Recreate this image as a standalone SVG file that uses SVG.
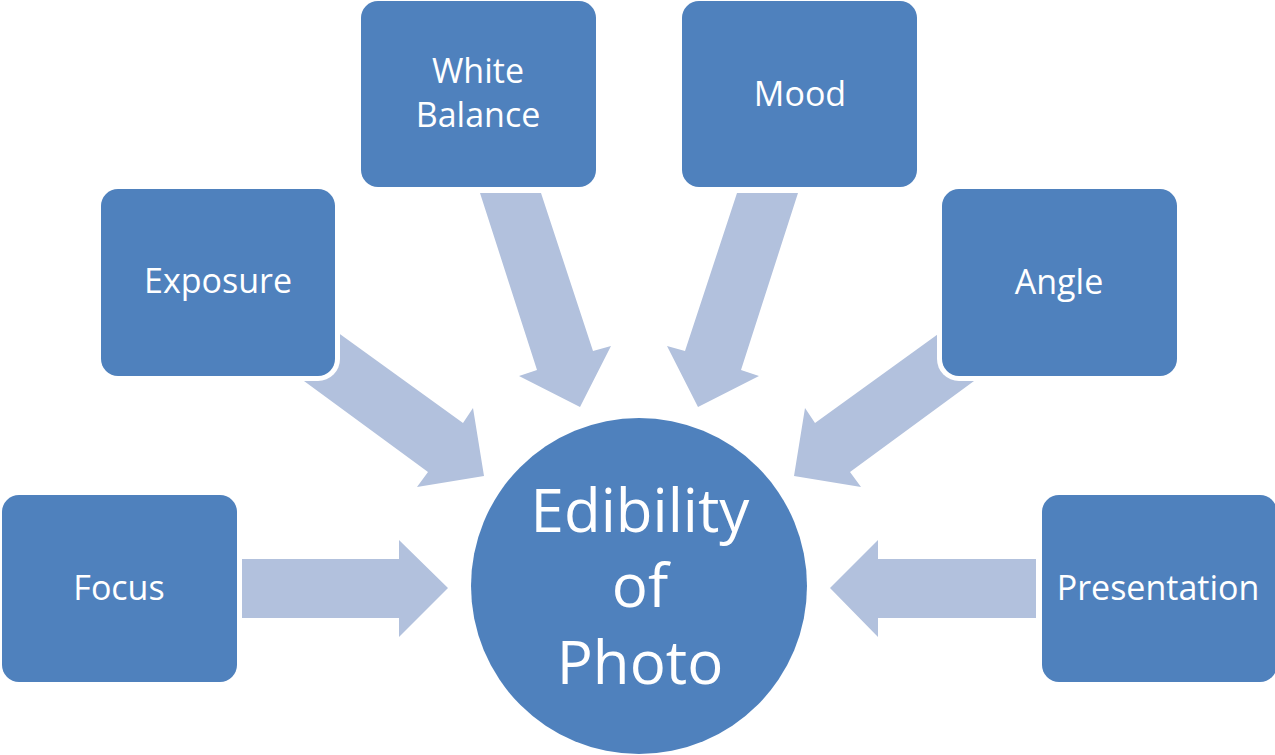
<svg xmlns="http://www.w3.org/2000/svg" width="1275" height="755" viewBox="0 0 1275 755">
<style>
.box{fill:#4F81BD}
.halo{fill:#FFFFFF}
.arrow{fill:#B2C1DD}
.lbl{font-family:"Open Sans","Noto Sans","Liberation Sans",sans-serif;fill:#FFFFFF;text-anchor:middle;font-size:34px}
.big{font-family:"Open Sans","Noto Sans","Liberation Sans",sans-serif;fill:#FFFFFF;text-anchor:middle;font-size:60px}
</style>
<rect width="1275" height="755" fill="#FFFFFF"/>
<g id="connectors">
<polygon class="arrow" points="242,559 399,559 399,540 448,588 399,637 399,618 242,618"/>
<polygon class="arrow" points="1036,559 878,559 878,540 830,588 878,637 878,618 1036,618"/>
<polygon class="arrow" points="326,324 463,423 473,408 484,476 417,487 428,472 289,370"/>
<polygon class="arrow" points="952,324 815,423 805,408 794,476 861,487 850,472 989,370"/>
<polygon class="arrow" points="480,193 541,193 593,351 611,346 580,407 519,376 537,370"/>
<polygon class="arrow" points="798,193 737,193 685,351 667,346 698,407 759,376 741,370"/>
</g>
<g id="node-focus">
<rect class="halo" x="-3" y="490" width="245" height="197" rx="22"/>
<rect class="box" x="2" y="495" width="235" height="187" rx="17"/>
<text class="lbl" x="119" y="600">Focus</text>
</g>
<g id="node-exposure">
<rect class="halo" x="96" y="184" width="244" height="197" rx="22"/>
<rect class="box" x="101" y="189" width="234" height="187" rx="17"/>
<text class="lbl" x="218" y="293">Exposure</text>
</g>
<g id="node-white-balance">
<rect class="halo" x="356" y="-4" width="245" height="196" rx="22"/>
<rect class="box" x="361" y="1" width="235" height="186" rx="17"/>
<text class="lbl" x="478" y="83">White</text>
<text class="lbl" x="478" y="127">Balance</text>
</g>
<g id="node-mood">
<rect class="halo" x="677" y="-4" width="245" height="196" rx="22"/>
<rect class="box" x="682" y="1" width="235" height="186" rx="17"/>
<text class="lbl" x="800" y="106">Mood</text>
</g>
<g id="node-angle">
<rect class="halo" x="937" y="184" width="245" height="197" rx="22"/>
<rect class="box" x="942" y="189" width="235" height="187" rx="17"/>
<text class="lbl" x="1059" y="294">Angle</text>
</g>
<g id="node-presentation">
<rect class="halo" x="1037" y="490" width="245" height="197" rx="22"/>
<rect class="box" x="1042" y="495" width="235" height="187" rx="17"/>
<text class="lbl" x="1158" y="600">Presentation</text>
</g>
<g id="node-center">
<circle class="box" cx="639" cy="586" r="168"/>
<text class="big" x="640" y="532">Edibility</text>
<text class="big" x="640" y="607">of</text>
<text class="big" x="640" y="684">Photo</text>
</g>
</svg>
